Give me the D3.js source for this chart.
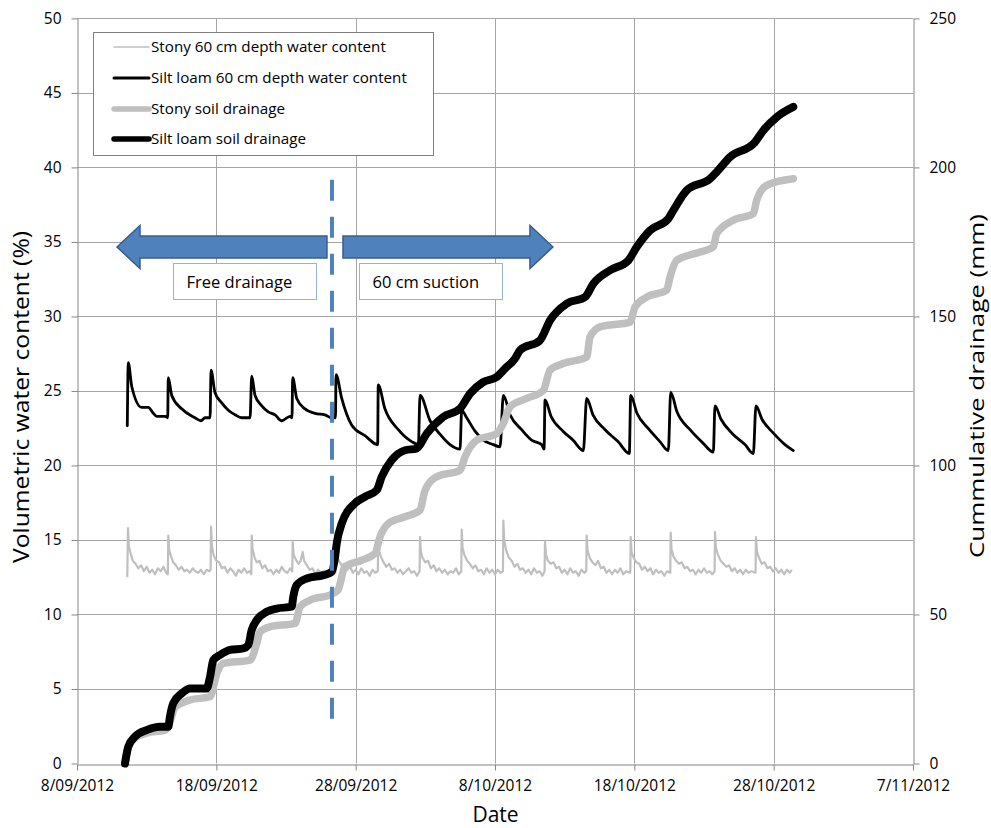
<!DOCTYPE html>
<html><head><meta charset="utf-8">
<script src="https://cdn.jsdelivr.net/npm/d3@7"></script>
<style>
body{margin:0;background:#fff}
svg{display:block}
text{font-family:"Open Sans",sans-serif;fill:#000}
</style>
</head><body>
<svg id="c" width="991" height="828"></svg>
<script>
// ---------- DATA (day offsets from 8 Sep 2012) ----------
const startDateUTC = Date.UTC(2012, 8, 8);
const xTickDays = [0, 10, 20, 30, 40, 50, 60];
const xTickLabels = ["8/09/2012","18/09/2012","28/09/2012","8/10/2012","18/10/2012","28/10/2012","7/11/2012"];
const yLeftTicks = [0,5,10,15,20,25,30,35,40,45,50];
const yRightTicks = [0,50,100,150,200,250];

// Silt loam 60 cm depth water content (%)
const siltWC = [
 [3.61,22.66],[3.68,26.9],[3.93,25.3],[4.64,23.9],[5.12,23.9],[5.48,23.5],[5.72,23.3],[6.32,23.3],[6.51,23.2],
 [6.55,25.9],[6.80,24.7],[7.51,23.8],[8.47,23.2],[8.9,23.0],[9.19,23.2],[9.55,23.2],
 [9.62,26.4],[9.90,24.9],[10.39,24.2],[10.86,23.7],[11.34,23.4],[11.82,23.2],[12.42,23.2],
 [12.54,26.0],[12.78,24.7],[13.26,24.0],[13.73,23.6],[14.21,23.4],[14.69,23.0],[15.29,23.3],[15.43,23.2],
 [15.48,25.9],[15.77,24.5],[16.36,23.8],[17.08,23.5],[17.80,23.4],[18.23,23.2],[18.55,23.2],
 [18.59,26.1],[19.0,24.5],[19.72,22.7],[20.67,22.0],[21.58,21.4],
 [21.62,25.4],[22.1,23.8],[23.06,22.4],[24.02,21.6],[24.50,21.4],
 [24.62,24.7],[25.34,23.0],[26.05,22.1],[26.77,21.4],[27.49,21.1],
 [27.61,23.7],[27.97,23.2],[28.57,22.3],[29.16,21.7],[29.88,21.4],[30.36,21.25],
 [30.6,24.7],[31.08,23.4],[31.91,22.4],[32.63,21.7],[33.35,21.4],[33.52,21.1],
 [33.59,24.4],[34.02,23.3],[34.88,22.3],[35.6,21.7],[36.34,21.0],
 [36.58,24.5],[37.03,23.4],[37.9,22.4],[38.83,21.6],[39.64,20.8],
 [39.74,24.7],[40.19,23.5],[40.98,22.5],[41.84,21.6],[42.44,21.0],
 [42.61,24.9],[43.06,23.6],[44.0,22.4],[44.93,21.5],[45.67,20.9],
 [45.79,24.0],[46.22,23.1],[47.08,22.1],[47.94,21.4],[48.54,20.8],
 [48.73,24.0],[49.16,23.1],[49.95,22.2],[50.81,21.4],[51.41,21.0]
];

// Stony 60 cm depth water content (%)
const stonyWC = [
 [3.61,12.5],[3.66,15.8],[3.72,14.6],[3.85,14.1],[4.0,13.6],[4.2,13.4],[4.4,13.1],[4.6,13.3],[4.8,12.9],[5.0,13.2],[5.2,12.8],[5.4,13.0],[5.6,12.7],[5.8,13.1],[6.0,12.9],[6.2,13.2],[6.4,12.8],[6.52,12.7],
 [6.55,15.3],[6.62,14.3],[6.75,13.9],[6.9,13.5],[7.1,13.3],[7.3,13.0],[7.5,13.2],[7.7,12.9],[7.9,13.0],[8.1,12.8],[8.3,13.1],[8.5,12.9],[8.7,12.8],[8.9,13.0],[9.1,12.7],[9.3,13.0],[9.5,12.9],[9.59,13.0],
 [9.62,15.9],[9.68,14.6],[9.8,14.0],[10.0,13.6],[10.2,13.5],[10.4,13.1],[10.6,13.2],[10.8,12.8],[11.0,13.1],[11.2,12.9],[11.4,12.6],[11.6,13.0],[11.8,12.8],[12.0,13.1],[12.2,12.8],[12.4,12.9],[12.51,12.7],
 [12.54,15.3],[12.6,14.4],[12.75,13.8],[12.9,13.5],[13.1,13.6],[13.3,13.1],[13.5,13.3],[13.7,12.9],[13.9,13.0],[14.1,12.7],[14.3,13.0],[14.5,12.8],[14.7,13.2],[14.9,12.9],[15.1,12.8],[15.3,13.1],[15.45,12.9],
 [15.48,14.9],[15.55,14.0],[15.7,13.7],[15.9,13.4],[16.05,13.6],[16.2,14.2],[16.3,13.6],[16.5,13.3],[16.7,13.0],[16.9,13.1],[17.1,12.7],[17.3,13.0],[17.5,12.8],[17.7,12.9],[17.9,12.6],[18.1,12.9],[18.3,12.7],[18.55,12.8],
 [18.59,14.8],[18.66,13.9],[18.8,13.6],[19.0,13.3],[19.2,13.4],[19.4,13.0],[19.6,13.2],[19.8,12.8],[20.0,13.0],[20.2,12.7],[20.4,13.1],[20.6,12.8],[20.8,12.9],[21.0,12.6],[21.2,13.0],[21.4,12.8],[21.59,12.9],
 [21.62,15.3],[21.68,14.3],[21.8,13.9],[22.0,13.5],[22.2,13.2],[22.4,13.4],[22.6,13.0],[22.8,13.1],[23.0,12.8],[23.2,13.0],[23.4,12.7],[23.6,12.9],[23.8,13.1],[24.0,12.8],[24.2,12.9],[24.4,12.6],[24.59,12.9],
 [24.62,15.2],[24.68,14.2],[24.8,13.8],[25.0,13.5],[25.2,13.6],[25.4,13.1],[25.6,13.3],[25.8,12.9],[26.0,13.1],[26.2,12.8],[26.4,13.0],[26.6,12.7],[26.8,12.9],[27.0,12.8],[27.2,13.1],[27.4,12.7],[27.58,12.9],
 [27.61,15.7],[27.67,14.5],[27.8,14.0],[28.0,13.6],[28.2,13.4],[28.4,13.1],[28.6,13.3],[28.8,12.9],[29.0,13.0],[29.2,12.7],[29.4,13.1],[29.6,12.8],[29.8,13.0],[30.0,12.7],[30.2,13.0],[30.4,12.8],[30.57,12.9],
 [30.6,16.3],[30.66,15.0],[30.8,14.3],[31.0,13.8],[31.2,13.6],[31.4,13.2],[31.6,13.4],[31.8,13.0],[32.0,13.1],[32.2,12.8],[32.4,13.0],[32.6,12.7],[32.8,13.1],[33.0,12.8],[33.2,12.9],[33.4,12.6],[33.56,12.9],
 [33.59,14.9],[33.66,14.0],[33.8,13.6],[34.0,13.4],[34.2,13.5],[34.4,13.1],[34.6,13.2],[34.8,12.8],[35.0,13.0],[35.2,12.7],[35.4,13.1],[35.6,12.8],[35.8,12.9],[36.0,12.6],[36.2,13.0],[36.4,12.8],[36.55,12.9],
 [36.58,15.3],[36.64,14.3],[36.8,13.8],[37.0,13.5],[37.2,13.3],[37.4,13.6],[37.6,13.1],[37.8,13.2],[38.0,12.8],[38.2,13.0],[38.4,12.7],[38.6,13.0],[38.8,12.8],[39.0,13.1],[39.2,12.7],[39.4,12.9],[39.71,12.8],
 [39.74,15.2],[39.8,14.2],[39.95,13.8],[40.15,13.5],[40.35,13.4],[40.55,13.0],[40.75,13.2],[40.95,12.9],[41.15,13.1],[41.35,12.7],[41.55,13.0],[41.75,12.8],[41.95,12.9],[42.15,12.6],[42.35,12.9],[42.58,12.8],
 [42.61,15.5],[42.67,14.4],[42.8,13.9],[43.0,13.6],[43.2,13.4],[43.4,13.5],[43.6,13.1],[43.8,13.2],[44.0,12.9],[44.2,13.0],[44.4,12.7],[44.6,13.0],[44.8,12.8],[45.0,13.1],[45.2,12.8],[45.4,12.9],[45.6,12.7],[45.76,12.9],
 [45.79,15.55],[45.85,14.5],[46.0,14.0],[46.2,13.6],[46.4,13.4],[46.6,13.2],[46.8,13.3],[47.0,12.9],[47.2,13.1],[47.4,12.8],[47.6,13.0],[47.8,12.7],[48.0,13.0],[48.2,12.8],[48.4,12.9],[48.7,12.8],
 [48.73,15.2],[48.8,14.2],[48.95,13.8],[49.15,13.4],[49.35,13.5],[49.55,13.1],[49.75,13.2],[49.95,12.9],[50.15,13.1],[50.35,12.8],[50.55,13.0],[50.75,12.7],[50.95,13.0],[51.15,12.8],[51.3,13.0]
];

// Silt loam cumulative drainage (mm)
const siltDrain = [
 [3.445,0],[3.68,5.6],[4.16,9.0],[5.0,11.2],[5.96,12.3],[6.55,12.3],[6.67,15.7],[6.91,20.2],[7.51,23.5],[8.11,25.2],[9.31,25.2],
 [9.55,29.1],[9.78,34.7],[10.26,36.4],[10.98,38.1],[11.94,38.6],[12.29,39.7],[12.54,44.8],[12.90,48.1],[13.62,50.9],[14.33,52.0],
 [15.41,52.6],[15.52,55.9],[15.77,59.9],[16.49,62.1],[17.68,63.2],[18.28,64.3],[18.52,69.3],[18.64,73.8],[19.00,80.5],[19.95,87.3],
 [20.67,89.5],[21.51,91.7],[21.87,96.2],[22.59,101.8],[23.54,105.1],[24.38,105.7],[25.10,110.7],[26.29,116.3],[27.49,119.1],[28.21,124.1],
 [29.16,128.0],[30.12,129.7],[30.72,132.5],[31.44,135.9],[31.80,138.7],[33.23,142.0],[33.95,148.7],[35.15,154.3],[36.46,156.5],[37.06,161.0],
 [38.26,165.5],[39.57,168.8],[40.17,173.3],[41.13,178.9],[42.44,182.8],[42.80,185.6],[43.76,192.3],[45.43,196.2],[45.91,198.5],[46.87,203.5],
 [48.66,208.5],[49.26,212.4],[50.22,216.9],[51.41,220.3]
];

// Stony soil cumulative drainage (mm)
const stonyDrain = [
 [3.445,0],[3.68,5.6],[4.16,8.5],[5.0,10.2],[6.32,11.2],[6.67,13.9],[7.03,18.9],[8.11,21.3],[9.55,22.4],[10.03,30.2],[10.5,33.6],
 [12.42,34.7],[12.90,40.3],[13.13,44.2],[13.85,45.9],[15.65,47.0],[16.01,52.6],[16.72,54.8],[18.28,56.8],[18.73,58.2],[19.23,66.0],
 [20.43,68.2],[21.39,70.5],[21.75,76.1],[22.34,80.5],[23.54,82.8],[24.62,85.0],[24.98,91.7],[25.82,96.2],[27.49,98.4],[27.85,102.9],
 [28.69,108.5],[30.12,110.7],[30.60,114.1],[31.08,119.7],[32.28,122.5],[33.47,125.2],[33.95,132.0],[34.90,134.2],[36.58,136.4],[36.82,143.1],
 [37.54,146.5],[39.69,148.1],[40.05,153.2],[40.89,156.5],[42.32,158.8],[42.56,163.2],[43.04,168.8],[44.71,171.6],[45.67,173.3],[45.91,177.8],
 [47.10,182.3],[48.54,184.5],[48.78,189.0],[49.50,194.0],[51.41,196.2]
];

const legendLabels = ["Stony 60 cm depth water content","Silt loam 60 cm depth water content","Stony soil drainage","Silt loam soil drainage"];
const annotationLabels = ["Free drainage","60 cm suction"];
const suctionStartDay = 18.3;
const axisTitles = {x:"Date", yLeft:"Volumetric water content (%)", yRight:"Cummulative drainage (mm)"};

// ---------- CHART ----------
const svg = d3.select("#c");
const M = {l:77, r:913, t:18.4, b:763.5};
const toDate = d => new Date(startDateUTC + d*86400000);
const x = d3.scaleUtc().domain([toDate(0), toDate(60)]).range([M.l, M.r]);
const yL = d3.scaleLinear().domain([0,50]).range([M.b, M.t]);
const yR = d3.scaleLinear().domain([0,250]).range([M.b, M.t]);

const gridC = "#A6A6A6", axisC = "#868686";
// gridlines
svg.append("g").selectAll("line.h").data(yLeftTicks.slice(1)).join("line")
  .attr("x1",M.l).attr("x2",M.r).attr("y1",d=>Math.round(yL(d))+0.5).attr("y2",d=>Math.round(yL(d))+0.5)
  .attr("stroke",gridC).attr("stroke-width",1);
svg.append("g").selectAll("line.v").data(xTickDays.slice(1,-1)).join("line")
  .attr("x1",d=>Math.round(x(toDate(d)))+0.5).attr("x2",d=>Math.round(x(toDate(d)))+0.5)
  .attr("y1",M.t).attr("y2",M.b).attr("stroke",gridC).attr("stroke-width",1);

// axes
const fmtX = d => xTickLabels[xTickDays.indexOf(Math.round((d - startDateUTC)/86400000))];
const xAxis = d3.axisBottom(x).tickValues(xTickDays.map(toDate)).tickFormat(fmtX).tickSize(6).tickSizeOuter(0).tickPadding(7);
const gx = svg.append("g").attr("transform",`translate(0,${Math.round(M.b)+0.5})`).call(xAxis);
const yAxL = d3.axisLeft(yL).tickValues(yLeftTicks).tickSize(6).tickSizeOuter(0).tickPadding(10);
const gyl = svg.append("g").attr("transform",`translate(${M.l+0.5},0)`).call(yAxL);
const yAxR = d3.axisRight(yR).tickValues(yRightTicks).tickSize(6).tickSizeOuter(0).tickPadding(10);
const gyr = svg.append("g").attr("transform",`translate(${M.r+0.5},0)`).call(yAxR);
[gx,gyl,gyr].forEach(g=>{
  g.selectAll("path.domain").attr("stroke",axisC);
  g.selectAll(".tick line").attr("stroke",axisC);
  g.selectAll(".tick text").attr("font-family","'Open Sans',sans-serif").attr("font-size","15.5px").attr("fill","#000");
});
gx.selectAll(".tick text").attr("dy","0.85em");

// lines
const lineL = d3.line().x(d=>x(toDate(d[0]))).y(d=>yL(d[1]));
const lineLs = d3.line().x(d=>x(toDate(d[0]))).y(d=>yL(d[1])).curve(d3.curveMonotoneX);
const lineR = d3.line().x(d=>x(toDate(d[0]))).y(d=>yR(d[1])).curve(d3.curveMonotoneX);
svg.append("path").datum(stonyWC).attr("d",lineL).attr("fill","none").attr("stroke","#BFBFBF").attr("stroke-width",2.2).attr("stroke-linejoin","round");
svg.append("path").datum(siltWC).attr("d",lineLs).attr("fill","none").attr("stroke","#000").attr("stroke-width",2.8).attr("stroke-linejoin","round").attr("stroke-linecap","round");
svg.append("path").datum(stonyDrain).attr("d",lineR).attr("fill","none").attr("stroke","#BFBFBF").attr("stroke-width",7.5).attr("stroke-linejoin","round").attr("stroke-linecap","round");
svg.append("path").datum(siltDrain).attr("d",lineR).attr("fill","none").attr("stroke","#000").attr("stroke-width",8).attr("stroke-linejoin","round").attr("stroke-linecap","round");

// dashed suction start line
const xs = x(toDate(suctionStartDay));
svg.append("line").attr("x1",xs).attr("x2",xs).attr("y1",yL(3.0)).attr("y2",yL(39.6))
  .attr("stroke","#4F81BD").attr("stroke-width",4).attr("stroke-dasharray","21,16");

// arrows
const ay = yL(34.66), sh = 11, hh = 21.5, hl = 23;
const lTip = x(toDate(2.87)), lEnd = x(toDate(17.94));
const rStart = x(toDate(19.09)), rTip = x(toDate(34.16));
const arrowPts = [
  [[lTip,ay],[lTip+hl,ay-hh],[lTip+hl,ay-sh],[lEnd,ay-sh],[lEnd,ay+sh],[lTip+hl,ay+sh],[lTip+hl,ay+hh]],
  [[rTip,ay],[rTip-hl,ay-hh],[rTip-hl,ay-sh],[rStart,ay-sh],[rStart,ay+sh],[rTip-hl,ay+sh],[rTip-hl,ay+hh]]
];
svg.append("g").selectAll("polygon").data(arrowPts).join("polygon")
  .attr("points",d=>d.map(p=>p.join(",")).join(" "))
  .attr("fill","#4F81BD").attr("stroke","#385D8A").attr("stroke-width",1.5).attr("stroke-linejoin","miter");

// annotation boxes
const boxes = [{x:173.5,label:annotationLabels[0]},{x:359.5,label:annotationLabels[1]}];
const bg = svg.append("g").selectAll("g").data(boxes).join("g");
bg.append("rect").attr("x",d=>d.x).attr("y",263.5).attr("width",143).attr("height",36)
  .attr("fill","#fff").attr("stroke","#95B3D7").attr("stroke-width",1);
bg.append("text").attr("x",d=>d.x+13).attr("y",288).attr("font-size","16.5px").text(d=>d.label);

// legend
const lg = svg.append("g");
lg.append("rect").attr("x",93.5).attr("y",32.5).attr("width",340).attr("height",123)
  .attr("fill","#fff").attr("stroke","#7F7F7F").attr("stroke-width",1);
const legStyles = [{c:"#BFBFBF",w:1.5},{c:"#000",w:3},{c:"#BFBFBF",w:5.5},{c:"#000",w:5.5}];
const legY = [47,78,109,139];
legendLabels.forEach((t,i)=>{
  lg.append("line").attr("x1",114).attr("x2",149).attr("y1",legY[i]).attr("y2",legY[i])
    .attr("stroke",legStyles[i].c).attr("stroke-width",legStyles[i].w).attr("stroke-linecap","round");
  lg.append("text").attr("x",151).attr("y",legY[i]).attr("dy","0.35em").attr("font-size","15.2px").text(t);
});

// axis titles
svg.append("text").attr("x",495.5).attr("y",822).attr("text-anchor","middle").attr("font-size","21px").text(axisTitles.x);
svg.append("text").attr("transform","translate(22,397) rotate(-90)").attr("text-anchor","middle").attr("dy","0.35em")
  .attr("font-size","21px").attr("textLength",332).attr("lengthAdjust","spacingAndGlyphs").text(axisTitles.yLeft);
svg.append("text").attr("transform","translate(977,386) rotate(-90)").attr("text-anchor","middle").attr("dy","0.35em")
  .attr("font-size","20px").attr("textLength",344).attr("lengthAdjust","spacingAndGlyphs").text(axisTitles.yRight);
</script>
</body></html>
